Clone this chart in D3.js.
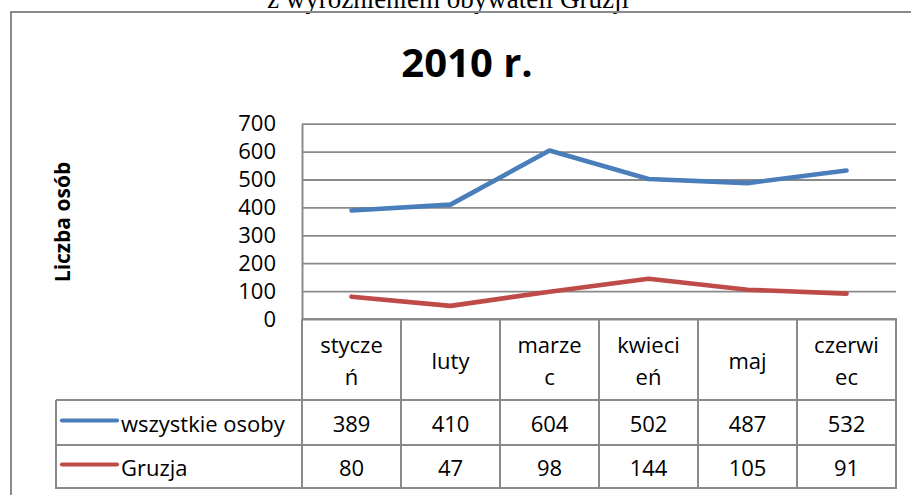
<!DOCTYPE html>
<html><head><meta charset="utf-8">
<script src="https://cdn.jsdelivr.net/npm/d3@7"></script>
<style>
html,body{margin:0;padding:0;background:#fff;}
svg{display:block;}
text{font-family:"Open Sans",sans-serif;fill:#000;}
</style></head>
<body>
<svg id="c" width="911" height="495"></svg>
<script>
const categories = ["styczeń","luty","marzec","kwiecień","maj","czerwiec"];
const categoryLines = [["stycze","ń"],["luty"],["marze","c"],["kwieci","eń"],["maj"],["czerwi","ec"]];
const seriesNames = ["wszystkie osoby","Gruzja"];
const allPersons = [389,410,604,502,487,532];
const georgia = [80,47,98,144,105,91];
const yTicks = [0,100,200,300,400,500,600,700];
const seriesColors = ["#4a7ebb","#be4b48"];
const series = [allPersons, georgia];

const svg = d3.select("#c");
const gray = "#8a8a8a";

// clipped subtitle above frame
svg.append("text").attr("x",448).attr("y",8).attr("text-anchor","middle")
  .style("font-family","'Liberation Serif','Times New Roman',serif").style("font-size","27px")
  .text("z wyróżnieniem obywateli Gruzji");

// frame
svg.append("line").attr("x1",10).attr("x2",911).attr("y1",12).attr("y2",12).attr("stroke",gray).attr("stroke-width",2);
svg.append("line").attr("x1",11).attr("x2",11).attr("y1",11).attr("y2",495).attr("stroke",gray).attr("stroke-width",2);

// title
svg.append("text").attr("x",467).attr("y",77).attr("text-anchor","middle")
  .style("font-weight","bold").style("font-size","40px").text("2010 r.");

// axis title
svg.append("text").attr("transform","translate(62,222) rotate(-90)")
  .attr("text-anchor","middle").attr("dominant-baseline","central")
  .style("font-weight","bold").style("font-size","21px").text("Liczba osób");

const x = d3.scaleBand().domain(categories).range([302,896]).paddingInner(0).paddingOuter(0);
const y = d3.scaleLinear().domain([0,700]).range([319,123.7]);
const cx = c => x(c) + x.bandwidth()/2;

// gridlines
const grid = svg.append("g").attr("transform","translate(302,0)")
  .call(d3.axisLeft(y).tickValues(yTicks).tickSize(-594).tickFormat(""));
grid.select(".domain").remove();
grid.selectAll("line").attr("stroke",gray).attr("stroke-width",1.8);

// y labels
const ya = svg.append("g").attr("transform","translate(302,0)")
  .call(d3.axisLeft(y).tickValues(yTicks).tickSize(0).tickPadding(26));
ya.select(".domain").attr("stroke",gray).attr("stroke-width",2);
ya.selectAll("text").style("font-family","'Open Sans',sans-serif").style("font-size","22px").attr("fill","#000");

// lines
const line = d3.line().x((d,i)=>cx(categories[i])).y(d=>y(d));
series.forEach((s,k)=>{
  svg.append("path").datum(s).attr("d",line).attr("fill","none")
    .attr("stroke",seriesColors[k]).attr("stroke-width",4.6)
    .attr("stroke-linecap","round").attr("stroke-linejoin","round");
});

// data table
const rowTop = 319, hdrBottom = 400, r1 = 445, r2 = 488, legLeft = 56;
const tg = svg.append("g").attr("stroke",gray).attr("stroke-width",2);
[hdrBottom, r1, r2].forEach(yy=>tg.append("line").attr("x1",legLeft).attr("x2",897).attr("y1",yy).attr("y2",yy));
tg.append("line").attr("x1",302).attr("x2",897).attr("y1",rowTop).attr("y2",rowTop);
categories.forEach(c=>tg.append("line").attr("x1",x(c)).attr("x2",x(c)).attr("y1",rowTop).attr("y2",r2));
tg.append("line").attr("x1",896).attr("x2",896).attr("y1",rowTop).attr("y2",r2+1);
tg.append("line").attr("x1",legLeft).attr("x2",legLeft).attr("y1",hdrBottom).attr("y2",r2+1);

// header labels
categories.forEach((c,i)=>{
  const ls = categoryLines[i];
  const mid = (rowTop+hdrBottom)/2;
  ls.forEach((t,j)=>{
    svg.append("text").attr("x",cx(c)).attr("y",mid + (j-(ls.length-1)/2)*32)
      .attr("text-anchor","middle").attr("dominant-baseline","central")
      .style("font-size","22px").text(t);
  });
});

// rows
const rowMids = [(hdrBottom+r1)/2, (r1+r2)/2];
series.forEach((s,k)=>{
  s.forEach((v,i)=>{
    svg.append("text").attr("x",cx(categories[i])).attr("y",rowMids[k])
      .attr("text-anchor","middle").attr("dominant-baseline","central")
      .style("font-size","22px").text(v);
  });
  svg.append("line").attr("x1",62).attr("x2",117).attr("y1",rowMids[k]-2).attr("y2",rowMids[k]-2)
    .attr("stroke",seriesColors[k]).attr("stroke-width",4.2).attr("stroke-linecap","round");
  svg.append("text").attr("x",121).attr("y",rowMids[k]).attr("dominant-baseline","central")
    .style("font-size","22px").text(seriesNames[k]);
});
</script>
</body></html>
